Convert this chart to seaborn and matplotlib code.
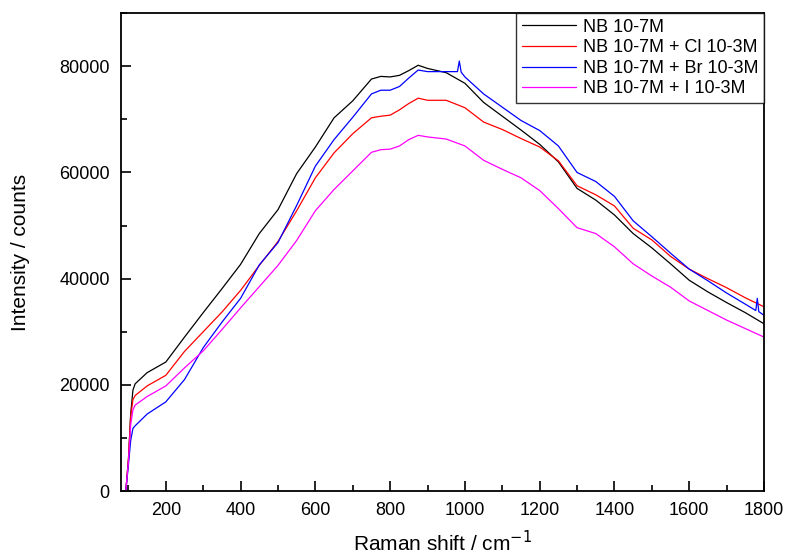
import numpy as np
import pandas as pd
import seaborn as sns
import matplotlib.pyplot as plt
from matplotlib.ticker import MultipleLocator

# Raman shift (cm-1)
shift = [93, 100, 106, 112, 118, 150, 200, 250, 300, 350, 400, 450, 500, 550, 600,
         650, 700, 750, 775, 800, 825, 850, 875, 900, 950, 1000, 1050, 1100, 1150,
         1200, 1250, 1300, 1350, 1400, 1450, 1500, 1550, 1600, 1650, 1700, 1750, 1800]

nb = [0, 6000, 14500, 19000, 20200, 22300, 24300, 29000, 33600, 38100, 42700, 48500,
      53000, 59800, 64800, 70300, 73500, 77600, 78100, 78000, 78300, 79200, 80200,
      79600, 78800, 76800, 73200, 70600, 68000, 65300, 62000, 57000, 54800, 52000,
      48500, 45800, 42800, 39700, 37500, 35500, 33600, 31500]

nb_cl = [0, 6000, 14000, 17200, 18000, 19800, 21800, 26300, 30000, 33700, 37800,
         42500, 47000, 52800, 59000, 63700, 67300, 70300, 70600, 70800, 71800, 73000,
         74000, 73600, 73600, 72200, 69500, 68100, 66400, 64800, 62200, 57500, 55800,
         53700, 49500, 47300, 44200, 41800, 40000, 38300, 36400, 34700]

nb_i = [0, 5500, 12500, 15300, 16200, 17800, 19800, 23200, 26400, 30400, 34500,
        38500, 42500, 47200, 52800, 56800, 60300, 63800, 64300, 64400, 65000, 66200,
        67000, 66700, 66300, 65000, 62300, 60600, 59000, 56600, 53200, 49600, 48500,
        46000, 42800, 40500, 38400, 35800, 34000, 32200, 30600, 29000]

# Br series has two narrow spikes, so its own x list
shift_br = [93, 100, 106, 112, 118, 150, 200, 250, 300, 350, 400, 450, 500, 550, 600,
            650, 700, 750, 775, 800, 825, 850, 875, 900, 950, 980, 985, 990, 1000,
            1050, 1100, 1150, 1200, 1250, 1300, 1350, 1400, 1450, 1500, 1550, 1600,
            1650, 1700, 1750, 1778, 1782, 1786, 1800]

nb_br = [0, 5000, 9500, 11800, 12300, 14500, 16800, 21000, 27000, 31800, 36300,
         42600, 46800, 53800, 61200, 66200, 70400, 74800, 75500, 75500, 76200, 77800,
         79300, 79000, 79000, 79000, 81000, 78900, 78000, 74800, 72300, 69800, 67900,
         65000, 60000, 58300, 55500, 50900, 47900, 44800, 41800, 39600, 37300, 35200,
         34000, 36300, 33800, 33100]

labels = ["NB 10-7M", "NB 10-7M + Cl 10-3M", "NB 10-7M + Br 10-3M", "NB 10-7M + I 10-3M"]
colors = ["black", "red", "blue", "magenta"]

sns.set_style("white")
plt.rcParams["font.family"] = ["Liberation Sans", "DejaVu Sans"]
plt.rcParams["text.color"] = "black"
plt.rcParams["axes.labelcolor"] = "black"
plt.rcParams["xtick.color"] = "black"
plt.rcParams["ytick.color"] = "black"

fig = plt.figure(figsize=(7.87, 5.58), dpi=100)
ax = fig.add_axes([0.1537, 0.120, 0.8171, 0.8563])

series = [(shift, nb), (shift, nb_cl), (shift_br, nb_br), (shift, nb_i)]
for (xs, ys), lab, col in zip(series, labels, colors):
    df = pd.DataFrame({"x": xs, "y": ys})
    sns.lineplot(data=df, x="x", y="y", ax=ax, color=col, label=lab,
                 linewidth=0.9, estimator=None, sort=False)

ax.set_xlim(80, 1800)
ax.set_ylim(0, 90000)
ax.xaxis.set_major_locator(MultipleLocator(200))
ax.xaxis.set_minor_locator(MultipleLocator(100))
ax.yaxis.set_major_locator(MultipleLocator(20000))
ax.yaxis.set_minor_locator(MultipleLocator(10000))
ax.tick_params(which="both", direction="in", top=False, right=False,
               bottom=True, left=True, labelsize=13, pad=8, width=1.2)
ax.tick_params(which="major", length=7)
ax.tick_params(which="minor", length=4)

for sp in ax.spines.values():
    sp.set_color("black")
    sp.set_linewidth(1.3)

ax.set_xlabel("Raman shift / cm$^{-1}$", fontsize=15, labelpad=8)
ax.set_ylabel("Intensity / counts", fontsize=15, labelpad=21)

leg = ax.legend(loc="upper right", borderaxespad=0, fancybox=False,
                fontsize=13, handlelength=3.0, labelspacing=0.2,
                borderpad=0.3, handletextpad=0.4)
leg.get_frame().set_edgecolor("black")
leg.get_frame().set_linewidth(1.0)

fig.savefig("out.png", dpi=100)
